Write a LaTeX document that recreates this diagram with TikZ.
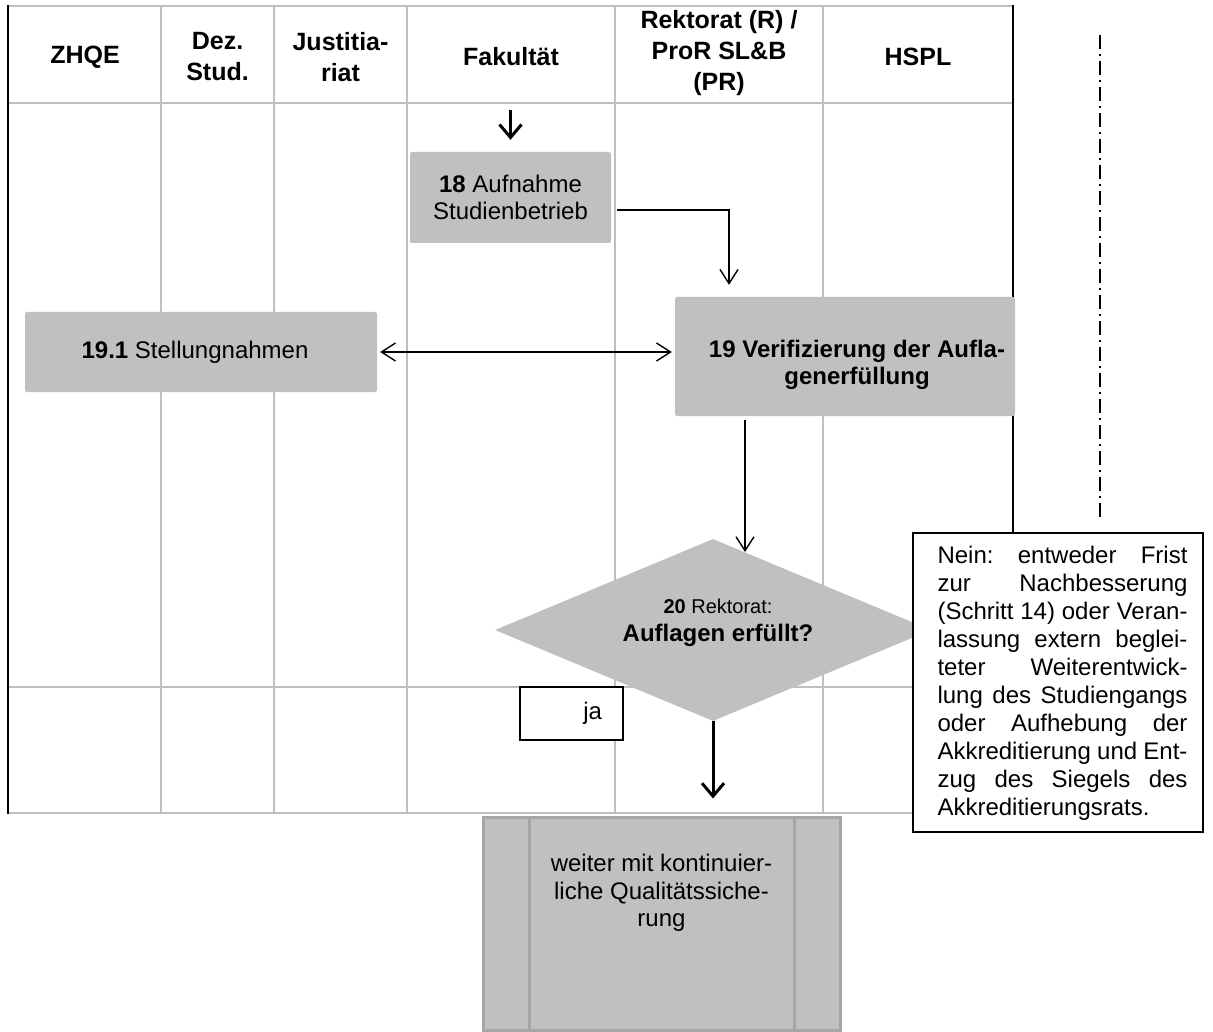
\documentclass[tikz,border=0pt]{standalone}
\usepackage{fontspec}
\setmainfont{Liberation Sans}
\usetikzlibrary{arrows.meta,shapes.geometric}
\definecolor{boxgray}{HTML}{C0C0C0}
\definecolor{linegray}{HTML}{BFBFBF}
\definecolor{bordergray}{HTML}{A6A6A6}
\newcommand{\jline}[1]{\leavevmode\hbox to 250pt{#1}}
\begin{document}
\begin{tikzpicture}[x=1pt,y=-1pt,
  every node/.style={font=\fontsize{24}{27.6}\selectfont, inner sep=0pt},
  graybox/.style={fill=boxgray, rounded corners=2pt, align=center},
  hdr/.style={font=\bfseries\fontsize{25}{31}\selectfont, align=center},
  gridline/.style={draw=linegray, line width=2pt},
  borderline/.style={draw=black, line width=2pt},
  thinarrow/.style={draw=black, line width=1.4pt, -{Straight Barb[length=14pt,width=18pt,line width=1.4pt]}},
  dblarrow/.style={draw=black, line width=1.4pt, {Straight Barb[length=14pt,width=18pt,line width=1.4pt]}-{Straight Barb[length=14pt,width=18pt,line width=1.4pt]}},
  thickarrow/.style={draw=black, line width=3pt, -{Straight Barb[length=13pt,width=22pt,line width=3pt]}},
  dashdotline/.style={draw=black, line width=1.5pt, dash pattern=on 14pt off 5pt on 2pt off 5pt}]
\useasboundingbox (0,0) rectangle (1213,1032);

% table grid
\draw[gridline] (8,6) -- (1013,6);
\draw[gridline] (8,103) -- (1013,103);
\draw[gridline] (8,687) -- (913,687);
\draw[gridline] (8,813) -- (913,813);
\foreach \x in {161,274,407,615,823} \draw[gridline] (\x,6) -- (\x,813);
\draw[borderline] (8,5) -- (8,814);
\draw[borderline] (1013,5) -- (1013,533);

% headers
\node[hdr] (hZ) at (85,57) {ZHQE};
\node[hdr] (hD) at (217.5,57) {Dez.\\Stud.};
\node[hdr] (hJ) at (340.5,57) {Justitia-\\riat};
\node[hdr] (hF) at (511,57) {Fakultät};
\node[hdr] (hR) at (719,53) {Rektorat (R) /\\ProR SL\&B\\(PR)};
\node[hdr] (hH) at (918,57) {HSPL};

% boxes
\node[graybox, minimum width=201pt, minimum height=91pt] (b18) at (510.5,197.5) {\textbf{18} Aufnahme\\Studienbetrieb};
\node[graybox, minimum width=352pt, minimum height=80pt] (b191) at (201,352) {\textbf{19.1} Stellungnahmen\hspace*{12pt}};
\node[graybox, minimum width=340pt, minimum height=119pt] (b19) at (845,356.5) {};
\node[align=center, font=\bfseries\fontsize{24}{27}\selectfont] (b19t) at (857,364.5) {19 Verifizierung der Aufla-\\generfüllung};

% decision
\node[diamond, fill=boxgray, minimum width=436pt, minimum height=182pt] (d20) at (713,630) {};
\node[align=center] (d20t) at (718,623) {{\fontsize{20}{22}\selectfont\textbf{20} Rektorat:}\\\textbf{Auflagen erfüllt?}};

% ja label
\node[draw=black, line width=1.5pt, fill=white, minimum width=103pt, minimum height=53pt, text width=61pt, align=right] (ja) at (571.5,713.5) {ja};

% note box
\node[draw=black, line width=2pt, fill=white, minimum width=290pt, minimum height=299pt] (nb) at (1058,682.5) {};
\node[text width=250pt, font=\fontsize{24}{28}\selectfont] (nbt) at (1062.5,683) {%
\jline{Nein:\hfill entweder\hfill Frist}\\
\jline{zur\hfill Nachbesserung}\\
\jline{(Schritt\hfill 14)\hfill oder\hfill Veran-}\\
\jline{lassung\hfill extern\hfill beglei-}\\
\jline{teter\hfill Weiterentwick-}\\
\jline{lung\hfill des\hfill Studiengangs}\\
\jline{oder\hfill Aufhebung\hfill der}\\
\jline{Akkreditierung\hfill und\hfill Ent-}\\
\jline{zug\hfill des\hfill Siegels\hfill des}\\
Akkreditierungsrats.};

% bottom box
\node[fill=boxgray, draw=bordergray, line width=3pt, minimum width=357pt, minimum height=213pt] (bb) at (661.5,923.5) {};
\draw[draw=bordergray, line width=3pt] ([xshift=-132.5pt]bb.north) -- ([xshift=-132.5pt]bb.south);
\draw[draw=bordergray, line width=3pt] ([xshift=132.5pt]bb.north) -- ([xshift=132.5pt]bb.south);
\node[align=center] (bbt) at (661.5,893) {weiter mit kontinuier-\\liche Qualitätssiche-\\rung};

% connectors
\coordinate (top18) at (510.5,110);
\draw[thickarrow, shorten >=12pt] (top18) -- (b18.north);
\draw[thinarrow, shorten >=12pt] ([xshift=6pt,yshift=-12.5pt]b18.east) -| ([xshift=-116pt]b19.north);
\draw[dblarrow, shorten <=3pt, shorten >=3pt] (b191.east) -- (b191.east -| b19.west);
\coordinate (d20in) at (745,552);
\draw[thinarrow, shorten <=4pt] ([xshift=-100pt]b19.south) -- (d20in);
\draw[thickarrow, shorten >=17pt] (d20.south) -- (d20.south |- bb.north);
\coordinate (ddtop) at (1100,35);
\draw[dashdotline, shorten >=11pt] (ddtop) -- (ddtop |- nb.north);
\end{tikzpicture}
\end{document}
